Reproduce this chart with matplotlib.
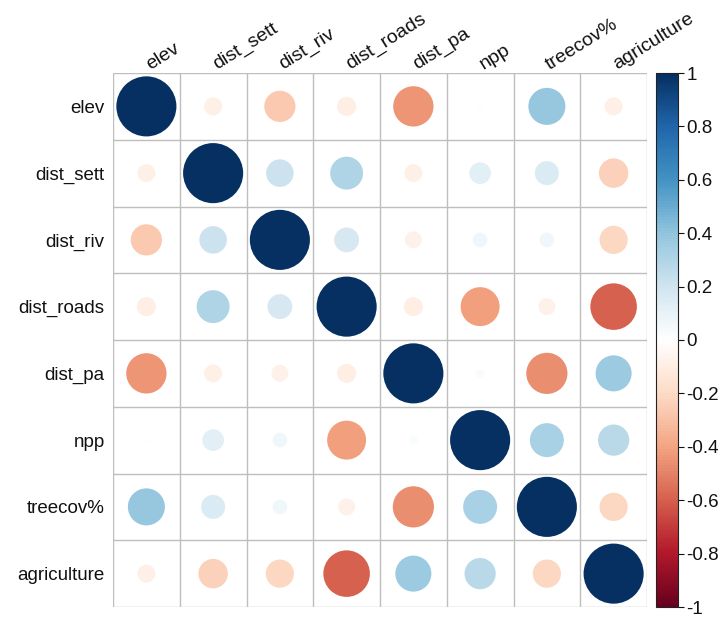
import numpy as np
import matplotlib
matplotlib.use("Agg")
import matplotlib.pyplot as plt
from matplotlib.patches import Circle
from matplotlib.colors import LinearSegmentedColormap, Normalize
from matplotlib.cm import ScalarMappable

plt.rcParams['font.family'] = ['Liberation Sans', 'DejaVu Sans']

variables = ["elev", "dist_sett", "dist_riv", "dist_roads", "dist_pa", "npp", "treecov%", "agriculture"]

elev        = [1.00, -0.09, -0.27, -0.10, -0.45, -0.01,  0.38, -0.09]
dist_sett   = [-0.09, 1.00,  0.21,  0.30, -0.09,  0.13,  0.16, -0.24]
dist_riv    = [-0.27, 0.21,  1.00,  0.17, -0.08,  0.06,  0.06, -0.22]
dist_roads  = [-0.10, 0.30,  0.17,  1.00, -0.10, -0.42, -0.08, -0.60]
dist_pa     = [-0.45, -0.09, -0.08, -0.10, 1.00,  0.02, -0.47,  0.36]
npp         = [-0.01, 0.13,  0.06, -0.42,  0.02,  1.00,  0.32,  0.27]
treecov     = [0.38,  0.16,  0.06, -0.08, -0.47,  0.32,  1.00, -0.22]
agriculture = [-0.09, -0.24, -0.22, -0.60, 0.36,  0.27, -0.22,  1.00]

corr = np.array([elev, dist_sett, dist_riv, dist_roads, dist_pa, npp, treecov, agriculture])

cb_ticks = [-1, -0.8, -0.6, -0.4, -0.2, 0, 0.2, 0.4, 0.6, 0.8, 1]
cb_labels = ["-1", "-0.8", "-0.6", "-0.4", "-0.2", "0", "0.2", "0.4", "0.6", "0.8", "1"]

cmap = LinearSegmentedColormap.from_list(
    "corrRdBu",
    ["#67001F", "#B2182B", "#D6604D", "#F4A582", "#FDDBC7", "#FFFFFF",
     "#D1E5F0", "#92C5DE", "#4393C3", "#2166AC", "#053061"], N=200)
norm = Normalize(-1, 1)

W, H = 719, 617
fig = plt.figure(figsize=(W / 100, H / 100), dpi=100)
ax = fig.add_axes([113 / W, 10 / H, 534 / W, 534 / H])
n = len(variables)
ax.set_xlim(0, n)
ax.set_ylim(n, 0)
ax.set_aspect('auto')

for i in range(n + 1):
    ax.axhline(i, color='#BEBEBE', lw=1.0, zorder=1)
    ax.axvline(i, color='#BEBEBE', lw=1.0, zorder=1)

for i in range(n):
    for j in range(n):
        r = corr[i, j]
        rad = 0.45 * np.sqrt(abs(r))
        ax.add_patch(Circle((j + 0.5, i + 0.5), rad, facecolor=cmap(norm(r)),
                            edgecolor='none', zorder=2))

for s in ax.spines.values():
    s.set_visible(False)
ax.set_xticks([])
ax.set_yticks(np.arange(n) + 0.5)
ax.set_yticklabels(variables, fontsize=13.5, color='#111111')
ax.tick_params(axis='y', length=0, pad=6)

for j, name in enumerate(variables):
    ax.text(j + 0.55, -0.05, name, rotation=32, rotation_mode='anchor',
            ha='left', va='baseline', fontsize=14, color='#111111',
            clip_on=False)

cax = fig.add_axes([656 / W, 10 / H, 22 / W, 534 / H])
cb = fig.colorbar(ScalarMappable(norm=norm, cmap=cmap), cax=cax)
cb.set_ticks(cb_ticks)
cb.set_ticklabels(cb_labels)
cb.outline.set_linewidth(0.8)
cb.outline.set_edgecolor('#222222')
cax.tick_params(axis='y', length=4, width=0.8, labelsize=13.5, pad=2, colors='#111111')

fig.savefig("out.png", dpi=100, facecolor='white')
